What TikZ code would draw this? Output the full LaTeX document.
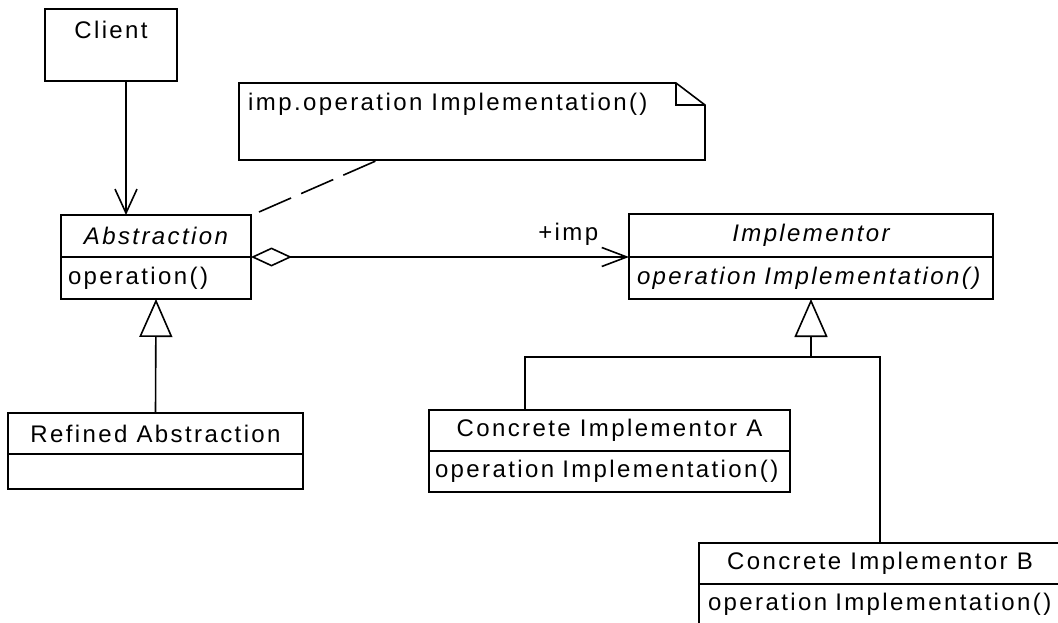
\documentclass[tikz,border=0pt]{standalone}
\usepackage{fontspec}
\setmainfont{Liberation Sans}[LetterSpace=10]
\usetikzlibrary{arrows.meta}
\begin{document}
\begin{tikzpicture}[x=1pt,y=-1pt,
  every node/.style={font=\fontsize{24}{28}\selectfont},
  umlline/.style={line width=1.6pt},
  compart/.style={draw, umlline, rectangle, inner xsep=7pt, inner ysep=0pt,
    anchor=north west, outer sep=0pt},
  bodytext/.style={compart, align=left},
  navarrow/.style={umlline, -{Straight Barb[length=24pt, width=22pt]}},
  genarrow/.style={umlline, -{Triangle[open, length=38pt, width=33pt]}},
  notelink/.style={umlline, dash pattern=on 35pt off 11pt}]
\path[use as bounding box] (0,0) rectangle (1058,623);
\clip (0,0) rectangle (1058,623);

% Client
\node[compart, minimum width=132pt, minimum height=72pt,
  label={[anchor=north, yshift=-9pt]north:Client}] (client) at (45,9) {};

% Abstraction
\node[compart, minimum width=190pt, minimum height=42pt] (absT) at (61,215) {\itshape Abstraction};
\node[bodytext, minimum width=190pt, minimum height=42pt, text width=176pt] (absB) at (absT.south west) {operation()};

% Refined Abstraction
\node[compart, minimum width=295pt, minimum height=41pt] (refT) at (8,413) {Refined Abstraction};
\node[compart, minimum width=295pt, minimum height=35pt] (refB) at (refT.south west) {};

% Implementor
\node[compart, minimum width=364pt, minimum height=43pt] (implT) at (629,214) {\itshape Implementor};
\node[bodytext, minimum width=364pt, minimum height=42pt, text width=348pt, inner xsep=8pt] (implB) at (implT.south west) {\itshape operation Implementation()};

% Concrete Implementor A
\node[compart, minimum width=361pt, minimum height=41pt] (caT) at (429,410) {Concrete Implementor A};
\node[bodytext, minimum width=361pt, minimum height=41pt, text width=349pt, inner xsep=6pt] (caB) at (caT.south west) {operation Implementation()};

% Concrete Implementor B
\node[compart, minimum width=362pt, minimum height=41pt] (cbT) at (699,543) {Concrete Implementor B};
\node[bodytext, minimum width=362pt, minimum height=40pt, text width=344pt, inner xsep=9pt] (cbB) at (cbT.south west) {operation Implementation()};

% Note with folded corner
\node[minimum width=466pt, minimum height=77pt, anchor=north west, inner sep=0pt, outer sep=0pt] (note) at (239,83) {};
\draw[umlline] (note.south west) -- (note.north west) -- ([xshift=-29pt]note.north east)
  -- ([yshift=-22pt]note.north east) -- (note.south east) -- cycle;
\draw[umlline] ([xshift=-29pt]note.north east) |- ([yshift=-22pt]note.north east);
\node[anchor=base west, inner sep=0pt] (notetext) at ([xshift=9pt,yshift=-28pt]note.north west) {imp.operation Implementation()};
\draw[notelink] ([shift={(8,-3)}]absT.north east) -- ([xshift=139pt]note.south west);

% Client uses Abstraction
\draw[navarrow] ([xshift=15pt]client.south) -- ([xshift=-30pt]absT.north);

% Aggregation Abstraction -> Implementor
\draw[umlline, {Diamond[open, length=41pt, width=19pt]}-{Straight Barb[length=25pt, width=19pt]}]
  (absT.south east) -- (implT.south west)
  node[pos=1, anchor=base east, xshift=-30pt, yshift=17pt, inner sep=0pt] (improle) {+imp};

% Generalisations
\draw[genarrow] (refT.north) -- (absB.south);
\coordinate (join) at ([yshift=-58pt]implB.south);
\draw[genarrow] (join) -- (implB.south);
\draw[umlline] ([xshift=96pt]caT.north west) |- (join) -| (cbT.north);
\end{tikzpicture}
\end{document}
